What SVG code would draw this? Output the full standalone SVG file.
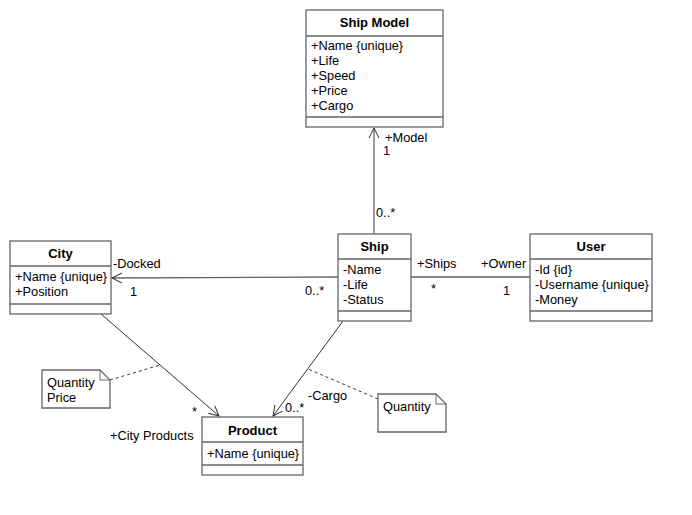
<svg xmlns="http://www.w3.org/2000/svg" width="692" height="515" viewBox="0 0 692 515">
<defs>
<style>
.box{fill:#fff;stroke:#666;stroke-width:1.3}
.sep{stroke:#666;stroke-width:1.3}
.t{font-family:"Liberation Sans",Arial,sans-serif;font-size:12.8px;fill:#000}
.h{font-family:"Liberation Sans",Arial,sans-serif;font-size:13px;font-weight:bold;fill:#000;text-anchor:middle}
.ln{stroke:#333;stroke-width:1;fill:none}
.ln2{stroke:#666;stroke-width:1.3;fill:none}
.dash{stroke:#333;stroke-width:1;fill:none;stroke-dasharray:3,3}
</style>
<marker id="open" markerWidth="12" markerHeight="12" refX="10" refY="6" orient="auto" markerUnits="userSpaceOnUse">
<path d="M0,1 L10,6 L0,11" fill="none" stroke="#333" stroke-width="1"/>
</marker>
</defs>
<rect width="692" height="515" fill="#fff"/>
<g id="connectors">
<line class="ln2" x1="374" y1="234" x2="374" y2="128" marker-end="url(#open)"/>
<line class="ln2" x1="338" y1="277" x2="112" y2="278" marker-end="url(#open)"/>
<line class="ln2" x1="411" y1="277" x2="530" y2="277"/>
<line class="ln" x1="101" y1="314" x2="219" y2="416" marker-end="url(#open)"/>
<line class="ln" x1="343" y1="321" x2="273" y2="416" marker-end="url(#open)"/>
<line class="dash" x1="110" y1="380" x2="160" y2="365"/>
<line class="dash" x1="378" y1="399" x2="308" y2="369"/>
<text class="t" x="385" y="142">+Model</text>
<text class="t" x="383" y="155">1</text>
<text class="t" x="376" y="217">0..*</text>
<text class="t" x="113" y="268">-Docked</text>
<text class="t" x="130" y="296">1</text>
<text class="t" x="305" y="295">0..*</text>
<text class="t" x="417" y="268">+Ships</text>
<text class="t" x="431" y="293">*</text>
<text class="t" x="481" y="268">+Owner</text>
<text class="t" x="503" y="295">1</text>
<text class="t" x="192" y="416">*</text>
<text class="t" x="110" y="440">+City Products</text>
<text class="t" x="285" y="412">0..*</text>
<text class="t" x="308" y="400">-Cargo</text>
</g>
<g id="shipmodel">
<rect class="box" x="306" y="10" width="137" height="117"/>
<line class="sep" x1="306" y1="36" x2="443" y2="36"/>
<line class="sep" x1="306" y1="117" x2="443" y2="117"/>
<text class="h" x="374.5" y="27">Ship Model</text>
<text class="t" x="311" y="50">+Name {unique}</text>
<text class="t" x="311" y="65">+Life</text>
<text class="t" x="311" y="80">+Speed</text>
<text class="t" x="311" y="95">+Price</text>
<text class="t" x="311" y="110">+Cargo</text>
</g>
<g id="city">
<rect class="box" x="10" y="241" width="101" height="73"/>
<line class="sep" x1="10" y1="266" x2="111" y2="266"/>
<line class="sep" x1="10" y1="304" x2="111" y2="304"/>
<text class="h" x="60.5" y="258">City</text>
<text class="t" x="15" y="281">+Name {unique}</text>
<text class="t" x="15" y="296">+Position</text>
</g>
<g id="ship">
<rect class="box" x="338" y="234" width="73" height="87"/>
<line class="sep" x1="338" y1="259" x2="411" y2="259"/>
<line class="sep" x1="338" y1="311" x2="411" y2="311"/>
<text class="h" x="374.5" y="251">Ship</text>
<text class="t" x="343" y="274">-Name</text>
<text class="t" x="343" y="289">-Life</text>
<text class="t" x="343" y="304">-Status</text>
</g>
<g id="user">
<rect class="box" x="530" y="234" width="122" height="87"/>
<line class="sep" x1="530" y1="259" x2="652" y2="259"/>
<line class="sep" x1="530" y1="311" x2="652" y2="311"/>
<text class="h" x="591" y="251">User</text>
<text class="t" x="535" y="274">-Id {id}</text>
<text class="t" x="535" y="289">-Username {unique}</text>
<text class="t" x="535" y="304">-Money</text>
</g>
<g id="product">
<rect class="box" x="202" y="417" width="101" height="58"/>
<line class="sep" x1="202" y1="442" x2="303" y2="442"/>
<line class="sep" x1="202" y1="465" x2="303" y2="465"/>
<text class="h" x="252.5" y="435">Product</text>
<text class="t" x="207" y="458">+Name {unique}</text>
</g>
<g id="note1">
<path class="box" d="M42,370 H100 L110,380 V408 H42 Z"/>
<path d="M100,370 V380 H110" fill="none" stroke="#666" stroke-width="1"/>
<text class="t" x="47" y="387">Quantity</text>
<text class="t" x="47" y="402">Price</text>
</g>
<g id="note2">
<path class="box" d="M378,394 H436 L446,404 V432 H378 Z"/>
<path d="M436,394 V404 H446" fill="none" stroke="#666" stroke-width="1"/>
<text class="t" x="383" y="411">Quantity</text>
</g>
</svg>
